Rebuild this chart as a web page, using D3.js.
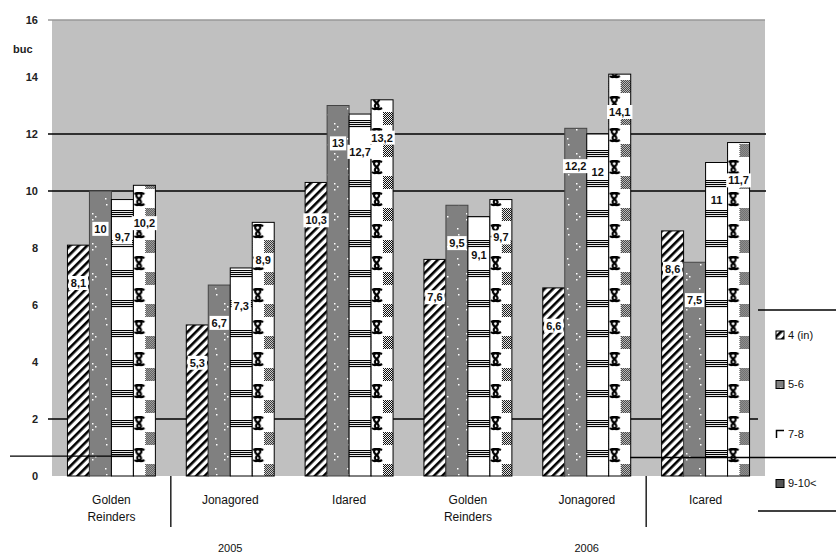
<!DOCTYPE html>
<html><head><meta charset="utf-8">
<script src="https://cdn.jsdelivr.net/npm/d3@7"></script>
<style>
html,body{margin:0;padding:0;background:#fff;}
svg{display:block;font-family:"Liberation Sans",Arial,sans-serif;}
</style></head>
<body>
<svg id="chart" width="836" height="554"></svg>
<script>
// ---- data ----
const categories = ["Golden Reinders","Jonagored","Idared","Golden Reinders","Jonagored","Icared"];
const years = ["2005","2006"];
const series = ["4 (in)","5-6","7-8","9-10<"];
const s1 = [8.1, 5.3, 10.3, 7.6, 6.6, 8.6];
const s2 = [10, 6.7, 13, 9.5, 12.2, 7.5];
const s3 = [9.7, 7.3, 12.7, 9.1, 12, 11];
const s4 = [10.2, 8.9, 13.2, 9.7, 14.1, 11.7];
const yTicks = [0,2,4,6,8,10,12,14,16];
const gridVals = [2,10,12];
const yUnit = "buc";

const svg = d3.select("#chart");
const W = 836, H = 554;
const plot = {l:52, r:765, t:20, b:476};
const values = [s1,s2,s3,s4];
const idx = categories.map((c,i)=>i);

const x0 = d3.scaleBand().domain(idx).range([plot.l, plot.r]).paddingInner(0.26).paddingOuter(0.13);
const x1 = d3.scaleBand().domain(d3.range(series.length)).range([0, x0.bandwidth()]);
const y = d3.scaleLinear().domain([0,16]).range([plot.b, plot.t]);
const step = x0.step();
const groupLeft = i => plot.l + i*step;
const bw = x1.bandwidth();

const defs = svg.append("defs");
// diagonal hatch
const ph = defs.append("pattern").attr("id","hatch").attr("patternUnits","userSpaceOnUse")
  .attr("width",6).attr("height",6).attr("patternTransform","rotate(45)");
ph.append("rect").attr("width",6).attr("height",6).attr("fill","#fff");
ph.append("rect").attr("width",2.6).attr("height",6).attr("fill","#000");
// gray with white dots
const pg = defs.append("pattern").attr("id","gdots").attr("patternUnits","userSpaceOnUse")
  .attr("width",22).attr("height",30);
pg.append("rect").attr("width",22).attr("height",30).attr("fill","#808080");
[[4,3],[7,6],[4,9],[17,18],[18,24]].forEach(p=>pg.append("rect").attr("x",p[0]).attr("y",p[1]).attr("width",1.5).attr("height",1.5).attr("fill","#fff"));
// horizontal line groups
const pl = defs.append("pattern").attr("id","hlines").attr("patternUnits","userSpaceOnUse")
  .attr("width",22).attr("height",30);
pl.append("rect").attr("width",22).attr("height",30).attr("fill","#fff");
[0,2,4,6].forEach(v=>pl.append("rect").attr("x",0).attr("y",v).attr("width",22).attr("height",1.1).attr("fill","#000"));
// checker per bar (aligned to bar x): knots left, dots right
idx.forEach(i=>{
  const bx = x0(i)+x1(3);
  const pc = defs.append("pattern").attr("id","check"+i).attr("patternUnits","userSpaceOnUse")
    .attr("x",bx).attr("y",0).attr("width",bw).attr("height",32);
  pc.append("rect").attr("width",bw).attr("height",32).attr("fill","#fff");
  const h = bw/2;
  const kn = pc.append("g").attr("fill","none").attr("stroke","#000").attr("stroke-width",2.2);
  kn.append("path").attr("d",`M1,2 C${h*0.6},-1 ${h},3 ${h*0.5},7 C1,11 ${h*0.6},15 ${h},12`);
  kn.append("path").attr("d",`M${h},2 C${h*0.4},-1 0,3 ${h*0.5},7 C${h},11 ${h*0.4},15 1,12`);
  const dg = pc.append("g").attr("fill","#000");
  for(let yy=16; yy<29; yy+=1) for(let xx=h+1+(yy%2); xx<bw-0.5; xx+=2) dg.append("rect").attr("x",xx).attr("y",yy).attr("width",1).attr("height",1);
});
const fills = ["url(#hatch)","url(#gdots)","url(#hlines)",null];
const fillOf = d => d.s===3 ? `url(#check${d.i})` : fills[d.s];
const strokes = ["#000","#444","#000","#000"];

// legend box (white, behind plot)
const lg = {x:758, t:310, b:511};
svg.append("rect").attr("x",lg.x).attr("y",lg.t).attr("width",W-lg.x).attr("height",lg.b-lg.t).attr("fill","#fff");

// plot background
svg.append("rect").attr("x",plot.l).attr("y",plot.t).attr("width",plot.r-plot.l).attr("height",plot.b-plot.t).attr("fill","#c0c0c0");
svg.append("line").attr("x1",plot.l-4).attr("x2",plot.r).attr("y1",y(16)).attr("y2",y(16)).attr("stroke","#999").attr("stroke-width",1.5);

svg.append("line").attr("x1",lg.x).attr("x2",W).attr("y1",lg.t).attr("y2",lg.t).attr("stroke","#000").attr("stroke-width",1.3);
svg.append("line").attr("x1",lg.x).attr("x2",W).attr("y1",lg.b).attr("y2",lg.b).attr("stroke","#000").attr("stroke-width",1.3);

// gridlines
svg.append("g").selectAll("line").data(gridVals).join("line")
  .attr("x1",plot.l-4).attr("x2",d=>d===2?lg.x:plot.r+1)
  .attr("y1",d=>y(d)).attr("y2",d=>y(d)).attr("stroke","#000").attr("stroke-width",1.5);

// y axis labels
const ya = svg.append("g").attr("transform",`translate(${plot.l-14},0)`)
  .call(d3.axisLeft(y).tickValues(yTicks).tickSize(0).tickFormat(d3.format("d")));
ya.select(".domain").remove();
ya.selectAll("text").attr("font-size",11).attr("font-weight","bold").attr("fill","#222")
  .attr("font-family","'Liberation Sans',Arial,sans-serif").attr("x",0);
svg.append("text").attr("x",13).attr("y",y(15)+4).attr("font-size",11).attr("font-weight","bold").attr("fill","#222").text(yUnit);

// bars
const flat = [];
values.forEach((arr,s)=>arr.forEach((v,i)=>flat.push({s,i,v})));
const bars = svg.append("g");
bars.selectAll("rect").data(flat).join("rect")
  .attr("x",d=>x0(d.i)+x1(d.s)).attr("y",d=>y(d.v))
  .attr("width",bw).attr("height",d=>y(0)-y(d.v))
  .attr("fill",fillOf).attr("stroke",d=>strokes[d.s]).attr("stroke-width",1);

// stray lines crossing the chart
svg.append("line").attr("x1",10).attr("x2",x0(0)+x1(2)+bw).attr("y1",y(0.7)).attr("y2",y(0.7)).attr("stroke","#000").attr("stroke-width",1.3);
svg.append("line").attr("x1",groupLeft(5)-16).attr("x2",W).attr("y1",y(0.65)).attr("y2",y(0.65)).attr("stroke","#000").attr("stroke-width",1.3);

// value labels
const fmt = v => String(v).replace(".",",");
const lab = svg.append("g").selectAll("g").data(flat).join("g")
  .attr("transform",d=>`translate(${x0(d.i)+x1(d.s)+bw/2},${y(d.v)+38})`);
lab.append("text").attr("text-anchor","middle").attr("dy","0.35em")
  .attr("font-size",11).attr("font-weight","bold").attr("fill","#111").text(d=>fmt(d.v));
lab.each(function(){
  const g = d3.select(this), bb = g.select("text").node().getBBox();
  g.insert("rect","text").attr("x",bb.x-2).attr("y",bb.y-1).attr("width",bb.width+4).attr("height",bb.height+2).attr("fill","#fff");
});

// category labels
const cat = svg.append("g").selectAll("text").data(idx).join("text")
  .attr("x",i=>x0(i)+x0.bandwidth()/2).attr("y",504).attr("text-anchor","middle")
  .attr("font-size",12).attr("fill","#111");
cat.each(function(i){
  const words = categories[i].split(" ");
  d3.select(this).selectAll("tspan").data(words).join("tspan")
    .attr("x",x0(i)+x0.bandwidth()/2).attr("dy",(w,k)=>k?17:0).text(w=>w);
});
// separators & years
[1,5].forEach(k=>svg.append("line").attr("x1",groupLeft(k)).attr("x2",groupLeft(k)).attr("y1",plot.b).attr("y2",527).attr("stroke","#000").attr("stroke-width",1.3));
years.forEach((yr,k)=>svg.append("text").attr("x",groupLeft(3*k)+1.5*step).attr("y",552).attr("text-anchor","middle").attr("font-size",11).attr("fill","#111").text(yr));

// legend
const li = svg.append("g").selectAll("g").data(series).join("g")
  .attr("transform",(d,k)=>`translate(776,${335+k*49.5})`);
li.append("rect").attr("x",0).attr("y",-4).attr("width",8).attr("height",8)
  .attr("fill",(d,k)=>k===2?"#fff":(k===3?"#555":fills[k])).attr("stroke",(d,k)=>k===2?"none":"#000").attr("stroke-width",1);
li.filter((d,k)=>k===2).append("path").attr("d","M0.5,4 V-3.5 H8").attr("fill","none").attr("stroke","#000").attr("stroke-width",1.5);
li.append("text").attr("x",12).attr("dy","0.35em").attr("font-size",11).attr("fill","#111").text(d=>d);
</script>
</body></html>
